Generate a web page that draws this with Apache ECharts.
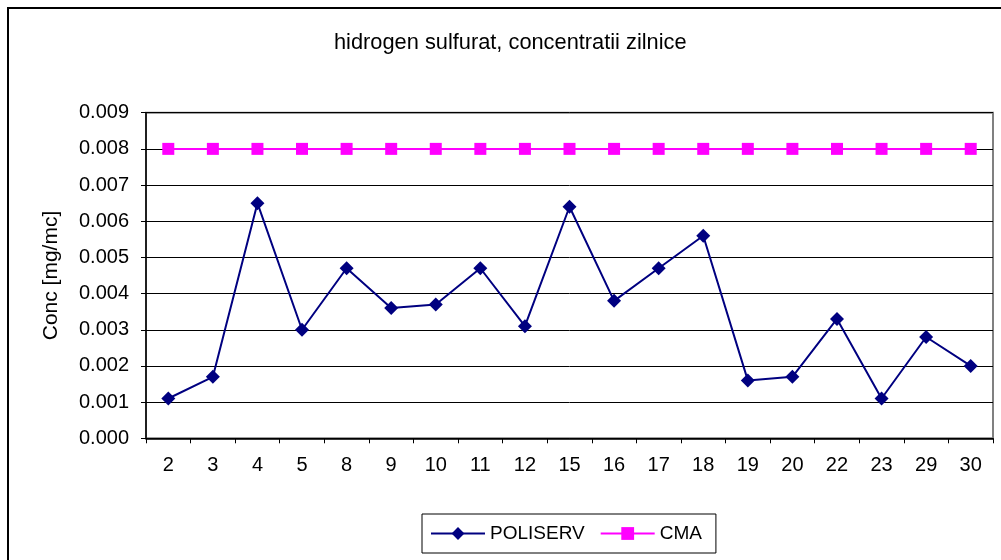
<!DOCTYPE html>
<html>
<head>
<meta charset="utf-8">
<style>
  html, body { margin: 0; padding: 0; background: #fff; }
  #chart { width: 1001px; height: 560px; }
</style>
<script src="https://cdn.jsdelivr.net/npm/echarts@6/dist/echarts.min.js"></script>
</head>
<body>
<div id="chart"></div>
<script>
// zile (categorii)
const days = ['2', '3', '4', '5', '8', '9', '10', '11', '12', '15', '16', '17', '18', '19', '20', '22', '23', '29', '30']
// concentratii POLISERV [mg/mc]
const poliserv = [0.0011, 0.0017, 0.0065, 0.0030, 0.0047, 0.0036, 0.0037, 0.0047, 0.0031, 0.0064,
    0.0038, 0.0047, 0.0056, 0.0016, 0.0017, 0.0033, 0.0011, 0.0028, 0.0020]
// CMA
const cma = days.map(() => 0.008)

const font = '"Liberation Sans", Arial, sans-serif'

const chart = echarts.init(document.getElementById('chart'))
const option = {
    animation: false,
    textStyle: { fontFamily: font },
    graphic: [
        {
            type: 'rect',
            shape: { x: 8, y: 8, width: 1010, height: 570 },
            style: { fill: 'none', stroke: '#000', lineWidth: 2 },
            silent: true
        }
    ],
    title: {
        text: 'hidrogen sulfurat, concentratii zilnice',
        left: 334,
        top: 32,
        padding: 0,
        textStyle: { fontFamily: font, fontSize: 21.8, fontWeight: 'normal', color: '#000' }
    },
    grid: {
        left: 146,
        right: 8,
        top: 112.7,
        bottom: 121.7,
        show: true,
        borderColor: '#808080',
        borderWidth: 2,
        containLabel: false
    },
    legend: {
        left: 422,
        top: 514,
        padding: [10, 14, 10, 8],
        borderColor: '#000',
        borderWidth: 1,
        itemWidth: 54,
        itemHeight: 16,
        itemGap: 15,
        textStyle: { fontFamily: font, fontSize: 19, color: '#000' },
        data: ['POLISERV', 'CMA']
    },
    xAxis: {
        type: 'category',
        data: days,
        boundaryGap: true,
        axisLine: { lineStyle: { color: '#000', width: 1.5 } },
        axisTick: { show: true, length: 5, lineStyle: { color: '#000' } },
        axisLabel: { color: '#000', fontSize: 20, margin: 17, interval: 0 },
        splitLine: { show: false }
    },
    yAxis: {
        type: 'value',
        min: 0,
        max: 0.009,
        interval: 0.001,
        name: 'Conc [mg/mc]',
        nameLocation: 'middle',
        nameRotate: 90,
        nameGap: 84,
        nameTextStyle: { fontFamily: font, fontSize: 21, color: '#000' },
        axisLine: { show: true, lineStyle: { color: '#000', width: 1.5 } },
        axisTick: { show: true, length: 5, lineStyle: { color: '#000' } },
        axisLabel: {
            color: '#000',
            fontSize: 20,
            margin: 17,
            formatter: v => v.toFixed(3)
        },
        splitLine: { show: true, lineStyle: { color: '#000', width: 1 } }
    },
    series: [
        {
            name: 'POLISERV',
            type: 'line',
            data: poliserv,
            symbol: 'diamond',
            symbolSize: 14,
            lineStyle: { color: '#000080', width: 2 },
            itemStyle: { color: '#000080' }
        },
        {
            name: 'CMA',
            type: 'line',
            data: cma,
            symbol: 'rect',
            symbolSize: 12,
            lineStyle: { color: '#FF00FF', width: 2 },
            itemStyle: { color: '#FF00FF' }
        }
    ]
}
chart.setOption(option)
</script>
</body>
</html>
